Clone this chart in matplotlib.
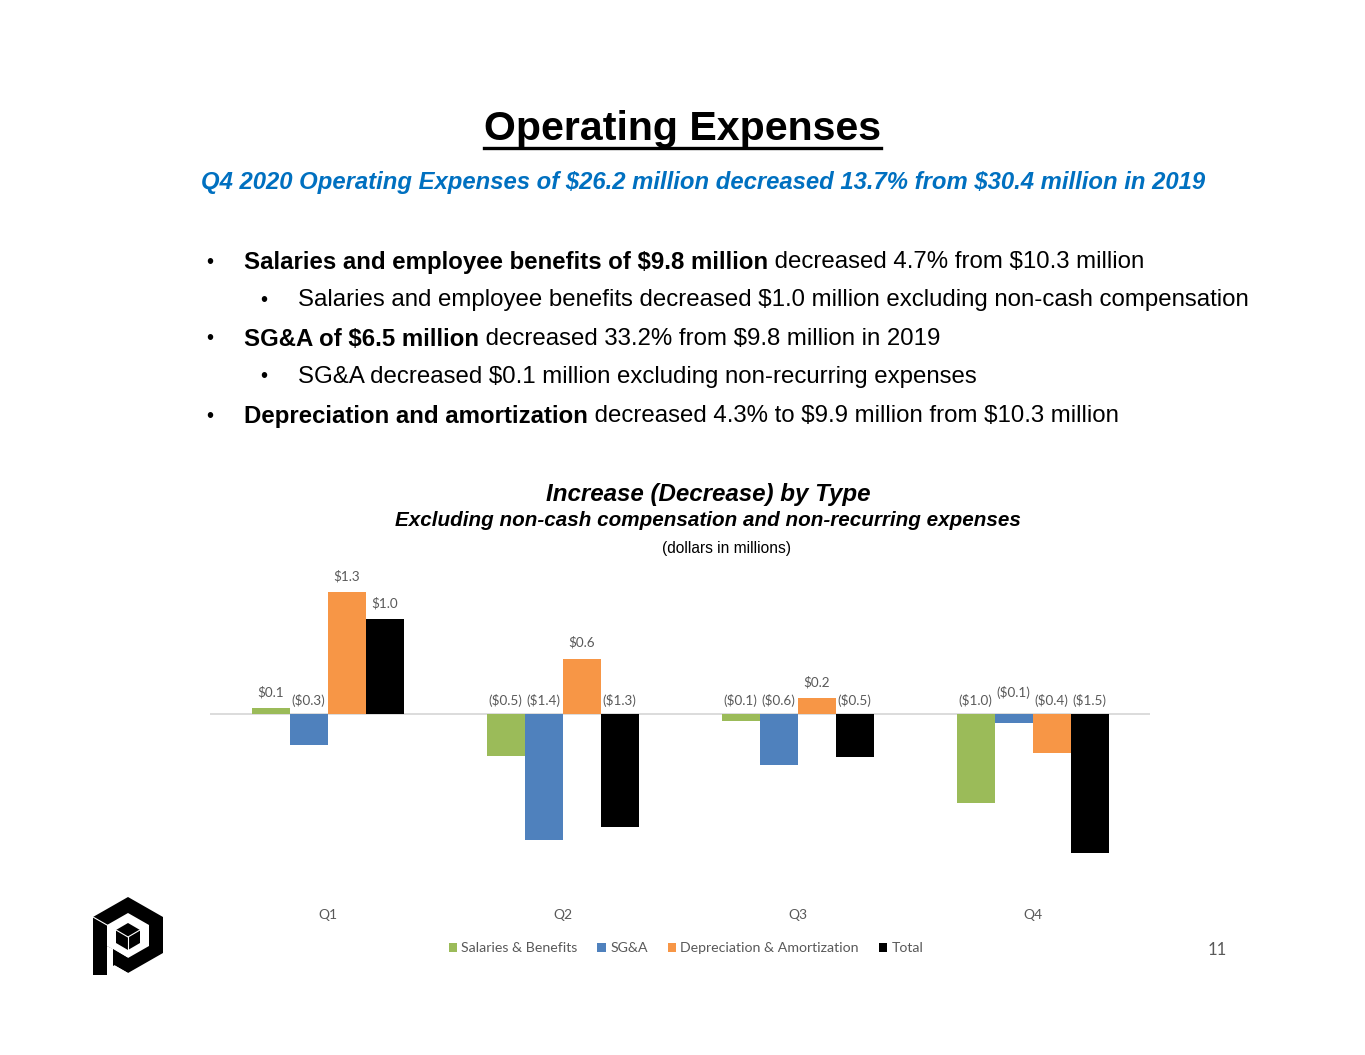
import matplotlib
matplotlib.use("Agg")
import matplotlib.pyplot as plt
import matplotlib.transforms as mtransforms
from matplotlib.patches import Polygon
from matplotlib.lines import Line2D
import numpy as np

plt.rcParams["text.parse_math"] = False

# ---------------- data ----------------
quarters = ["Q1", "Q2", "Q3", "Q4"]
series_names = ["Salaries & Benefits", "SG&A", "Depreciation & Amortization", "Total"]
salaries = [0.06, -0.45, -0.07, -0.95]
sga = [-0.33, -1.34, -0.54, -0.10]
dep_amort = [1.30, 0.59, 0.17, -0.41]
total = [1.01, -1.20, -0.46, -1.48]
label_salaries = ["$0.1", "($0.5)", "($0.1)", "($1.0)"]
label_sga = ["($0.3)", "($1.4)", "($0.6)", "($0.1)"]
label_dep = ["$1.3", "$0.6", "$0.2", "($0.4)"]
label_total = ["$1.0", "($1.3)", "($0.5)", "($1.5)"]

colors = ["#9BBB59", "#4F81BD", "#F79646", "#000000"]

W, H = 1365, 1055
fig = plt.figure(figsize=(W / 100, H / 100), dpi=100)
fig.patch.set_facecolor("white")

def fx(x):
    return x / W

def fy(y):
    return 1 - y / H

SANS = "Liberation Sans"
CHART = "Lato"
GRAY = "#595959"

renderer = fig.canvas.get_renderer()

# ---------------- title ----------------
t = fig.text(fx(682), fy(129), "Operating Expenses", ha="center", va="center",
             fontsize=29.6, fontweight="bold", family=SANS, color="black")
bb = t.get_window_extent(renderer=renderer)
fig.add_artist(Line2D([bb.x0 / W, bb.x1 / W], [fy(148), fy(148)], color="black", lw=2.4,
                      transform=fig.transFigure))

fig.text(fx(703), fy(183), "Q4 2020 Operating Expenses of $26.2 million decreased 13.7% from $30.4 million in 2019",
         ha="center", va="center", fontsize=17.2, fontweight="bold", style="italic",
         family=SANS, color="#0070C0")

# ---------------- bullets ----------------
bullets = [
    (206, 244, 262, "Salaries and employee benefits of $9.8 million", " decreased 4.7% from $10.3 million"),
    (260, 298, 300, "", "Salaries and employee benefits decreased $1.0 million excluding non-cash compensation"),
    (206, 244, 339, "SG&A of $6.5 million", " decreased 33.2% from $9.8 million in 2019"),
    (260, 298, 377, "", "SG&A decreased $0.1 million excluding non-recurring expenses"),
    (206, 244, 416, "Depreciation and amortization", " decreased 4.3% to $9.9 million from $10.3 million"),
]
BFS = 17.3
for bx, tx, y, bold, normal in bullets:
    fig.text(fx(bx), fy(y), "\u2022", ha="left", va="center", fontsize=BFS * 0.85, family=SANS)
    x = tx
    if bold:
        tb = fig.text(fx(x), fy(y), bold, ha="left", va="center", fontsize=BFS,
                      fontweight="bold", family=SANS)
        x = tb.get_window_extent(renderer=renderer).x1
    fig.text(fx(x), fy(y), normal, ha="left", va="center", fontsize=BFS, family=SANS)

# ---------------- chart titles ----------------
fig.text(fx(708), fy(494), "Increase (Decrease) by Type", ha="center", va="center",
         fontsize=17.4, fontweight="bold", style="italic", family=SANS)
fig.text(fx(708), fy(521), "Excluding non-cash compensation and non-recurring expenses", ha="center",
         va="center", fontsize=14.9, fontweight="bold", style="italic", family=SANS)
fig.text(fx(727), fy(548), "(dollars in millions)", ha="center", va="center",
         fontsize=11.2, family=SANS)

# ---------------- chart ----------------
ax_left, ax_right = 210, 1150
zero_px = 714
ppu = 94.0
ymax, ymin = 1.6, -1.8
top_px = zero_px - ymax * ppu
bot_px = zero_px - ymin * ppu
ax = fig.add_axes([fx(ax_left), fy(bot_px), (ax_right - ax_left) / W, (bot_px - top_px) / H])
ax.set_xlim(-0.5, len(quarters) - 0.5)
ax.set_ylim(ymin, ymax)
ax.axis("off")
ax.axhline(0, color="#D9D9D9", lw=1.3, zorder=1)

all_vals = [salaries, sga, dep_amort, total]
all_labels = [label_salaries, label_sga, label_dep, label_total]
bw = 38 / 235
x = np.arange(len(quarters))
for i, (vals, labs, c, name) in enumerate(zip(all_vals, all_labels, colors, series_names)):
    pos = x + (i - 1.5) * bw
    ax.bar(pos, vals, width=bw, color=c, zorder=2, label=name)
    for j, (p, v, lab) in enumerate(zip(pos, vals, labs)):
        if v >= 0:
            yy = v
            off = 16
        else:
            yy = 0
            off = 14
            if i == 1 and j == 3:
                off = 22
        ax.annotate(lab, (p, yy), xytext=(0, off * 0.72), textcoords="offset points",
                    ha="center", va="center", fontsize=9.7, family=CHART, color=GRAY, zorder=3)

cat_tr = mtransforms.blended_transform_factory(ax.transData, fig.transFigure)
for j, q in enumerate(quarters):
    ax.text(x[j], fy(915), q, transform=cat_tr,
            ha="center", va="center", fontsize=10, family=CHART, color=GRAY)

leg = fig.legend(*ax.get_legend_handles_labels(), loc="center", bbox_to_anchor=(fx(686), fy(948)),
                 ncol=4, frameon=False, handlelength=0.6, handleheight=0.6, handletextpad=0.3,
                 columnspacing=1.4, prop={"family": CHART, "size": 10.2})
for tx in leg.get_texts():
    tx.set_color(GRAY)

fig.text(fx(1217), fy(950), "11", ha="center", va="center", fontsize=12, family=CHART, color=GRAY)

# ---------------- logo ----------------
def poly(pts, color):
    fig.add_artist(Polygon([(fx(a), fy(b)) for a, b in pts], closed=True, facecolor=color,
                           edgecolor="none", transform=fig.transFigure))

poly([(128, 897), (163, 917), (163, 953), (128, 973), (93, 953), (93, 917)], "black")
poly([(128, 913), (149, 925), (149, 946), (128, 958), (107, 946), (107, 925)], "white")
poly([(93, 953), (128, 973), (93, 976)], "white")
poly([(93, 918), (107, 926), (107, 975), (93, 975)], "black")
poly([(107, 946), (113, 949), (113, 976), (107, 976)], "white")
poly([(113, 949), (128, 958), (113, 966)], "black")
poly([(128, 923), (140, 930), (140, 943), (128, 950), (116, 943), (116, 930)], "black")
fig.add_artist(Line2D([fx(128), fx(128)], [fy(937), fy(950)], color="white", lw=0.8,
                      transform=fig.transFigure))
fig.add_artist(Line2D([fx(116), fx(128), fx(140)], [fy(930), fy(937), fy(930)], color="white", lw=0.8,
                      transform=fig.transFigure))
fig.add_artist(Line2D([fx(93), fx(107)], [fy(917), fy(925)], color="white", lw=0.8,
                      transform=fig.transFigure))

fig.savefig("out.png", dpi=100, facecolor="white")
